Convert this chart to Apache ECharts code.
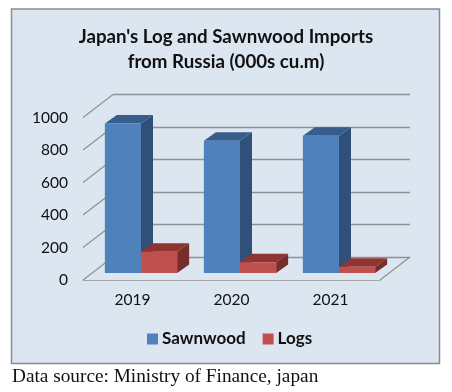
<!DOCTYPE html>
<html>
<head>
<meta charset="utf-8">
<style>
  html, body { margin: 0; padding: 0; background: #fff; }
  #chart { width: 452px; height: 392px; }
</style>
<script src="https://cdn.jsdelivr.net/npm/echarts@6/dist/echarts.min.js"></script>
</head>
<body>
<div id="chart"></div>
<script>
const years = ['2019', '2020', '2021']
const sawnwood = [920, 814, 845]
const logs = [131, 66, 39]
const yTicks = [0, 200, 400, 600, 800, 1000]

const chart = echarts.init(document.getElementById('chart'))

// fake 3d: the labelled grid is the front of the floor, the other one the back wall
const wallDx = 30
const wallDy = -23
const barDx = 8.5
const barDy = -7
const depthDx = 12
const depthDy = -8.5

function renderBar(side, front, top, wall) {
  return function (params, api) {
    const base = api.coord([api.value(0), 0])
    const head = api.coord([api.value(0), api.value(1)])
    const w = api.size([1, 0])[0] * 0.365
    const x0 = base[0] + barDx + (side < 0 ? -w : 0)
    const x1 = x0 + w
    const yb = base[1] + barDy
    const yt = head[1] + barDy
    return {
      type: 'group',
      children: [
        {
          type: 'polygon',
          shape: { points: [[x1, yb], [x1 + depthDx, yb + depthDy], [x1 + depthDx, yt + depthDy], [x1, yt]] },
          style: { fill: wall }
        },
        {
          type: 'polygon',
          shape: { points: [[x0, yt], [x1, yt], [x1 + depthDx, yt + depthDy], [x0 + depthDx, yt + depthDy]] },
          style: { fill: top }
        },
        {
          type: 'rect',
          shape: { x: x0, y: yt, width: w, height: yb - yt },
          style: { fill: front }
        }
      ]
    }
  }
}

function renderFrame(params, api) {
  const box = params.coordSys
  const y = api.coord([0, api.value(0)])[1]
  const lines = [{
    type: 'line',
    shape: { x1: box.x, y1: y, x2: box.x + wallDx, y2: y + wallDy },
    style: { stroke: '#8f9192', lineWidth: 1.2 }
  }]
  if (api.value(0) === 0) {
    const right = box.x + box.width
    lines.push({
      type: 'line',
      shape: { x1: right, y1: y, x2: right + wallDx, y2: y + wallDy },
      style: { stroke: '#8f9192', lineWidth: 1.2 }
    })
  }
  return { type: 'group', children: lines }
}

chart.setOption({
  backgroundColor: '#fff',
  animation: false,
  textStyle: { fontFamily: 'Lato' },
  graphic: [{
    type: 'rect',
    z: -10,
    shape: { x: 11.5, y: 9, width: 428, height: 354.5 },
    style: { fill: '#dce6f1', stroke: '#8c8c8e', lineWidth: 1.5 }
  }],
  title: [
    {
      text: "Japan's Log and Sawnwood Imports\nfrom Russia (000s cu.m)",
      left: 221,
      top: 19,
      textAlign: 'center',
      textStyle: { fontFamily: 'Lato', fontSize: 18.7, fontWeight: 'bold', color: '#111', lineHeight: 25 }
    },
    {
      text: 'Data source: Ministry of Finance, japan',
      left: 7,
      top: 362,
      textStyle: { fontFamily: 'Liberation Serif', fontSize: 19.3, fontWeight: 'normal', color: '#111' }
    }
  ],
  legend: {
    data: ['Sawnwood', 'Logs'],
    left: 142,
    top: 325.5,
    itemWidth: 11,
    itemHeight: 11,
    itemGap: 17,
    icon: 'rect',
    textStyle: { fontFamily: 'Lato', fontSize: 17, fontWeight: 'bold', color: '#111', padding: [0, 0, 0, -1] }
  },
  grid: [
    { left: 83, top: 117.5, width: 297, height: 162.5 },
    { left: 113, top: 94.5, width: 297, height: 162.5 }
  ],
  xAxis: [
    {
      type: 'category',
      gridIndex: 0,
      data: years,
      axisTick: { show: false },
      axisLine: { lineStyle: { color: '#a3a5a6', width: 1 } },
      axisLabel: { margin: 12, fontSize: 15.5, fontFamily: 'Lato', color: '#111' }
    },
    { type: 'category', gridIndex: 1, data: years, show: false }
  ],
  yAxis: [
    {
      type: 'value',
      gridIndex: 0,
      min: 0,
      max: 1000,
      interval: 200,
      axisLine: { show: false },
      axisTick: { show: false },
      splitLine: { show: false },
      axisLabel: { margin: 15, fontSize: 15.5, fontFamily: 'Lato', color: '#111', formatter: v => String(v) }
    },
    {
      type: 'value',
      gridIndex: 1,
      min: 0,
      max: 1000,
      interval: 200,
      axisLine: { show: false },
      axisTick: { show: false },
      axisLabel: { show: false },
      splitLine: { lineStyle: { color: '#8f9192', width: 1.3 } }
    }
  ],
  series: [
    {
      name: 'frame',
      type: 'custom',
      xAxisIndex: 0,
      yAxisIndex: 0,
      z: 1,
      silent: true,
      clip: false,
      encode: { y: 0 },
      data: yTicks.map(v => [v]),
      renderItem: renderFrame
    },
    {
      name: 'Sawnwood',
      type: 'custom',
      xAxisIndex: 0,
      yAxisIndex: 0,
      z: 3,
      clip: false,
      itemStyle: { color: '#4f81bd' },
      encode: { x: 0, y: 1 },
      data: years.map((y, i) => [i, sawnwood[i]]),
      renderItem: renderBar(-1, '#4f81bd', '#385d8a', '#2f5078')
    },
    {
      name: 'Logs',
      type: 'custom',
      xAxisIndex: 0,
      yAxisIndex: 0,
      z: 4,
      clip: false,
      itemStyle: { color: '#c0504d' },
      encode: { x: 0, y: 1 },
      data: years.map((y, i) => [i, logs[i]]),
      renderItem: renderBar(1, '#c0504d', '#8e3431', '#772d2b')
    }
  ]
})
</script>
</body>
</html>
